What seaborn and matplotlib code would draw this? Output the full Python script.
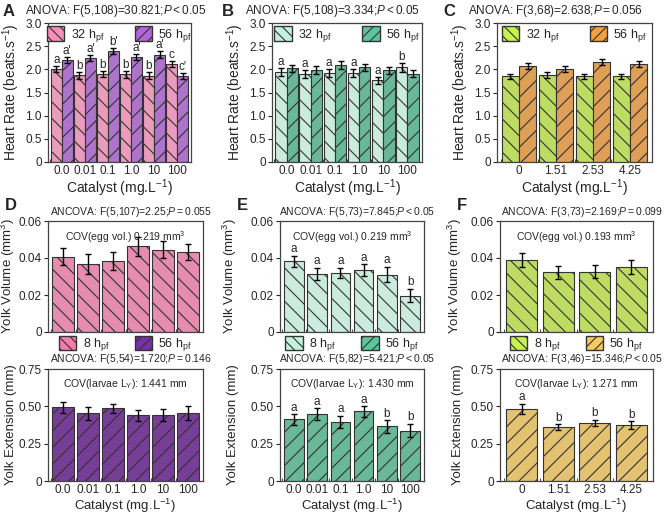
import numpy as np
import pandas as pd
import matplotlib
matplotlib.use("Agg")
import matplotlib.pyplot as plt
from matplotlib.patches import Patch
import seaborn as sns

sns.set_style("ticks")
plt.rcParams['font.family'] = ['Liberation Sans', 'DejaVu Sans']
plt.rcParams['mathtext.fontset'] = 'custom'
plt.rcParams['mathtext.rm'] = 'Liberation Sans'
plt.rcParams['mathtext.it'] = 'Liberation Sans:italic'
plt.rcParams['hatch.linewidth'] = 0.8

## data
conc_a = ['0.0', '0.01', '0.1', '1.0', '10', '100']
conc_c = ['0', '1.51', '2.53', '4.25']

# heart rate (beats/s), 32 hpf and 56 hpf
hr_a_32 = [2.01, 1.87, 1.90, 1.89, 1.865, 2.12]
hr_a_56 = [2.20, 2.25, 2.40, 2.27, 2.32, 1.86]
hr_a_32_err = [0.07, 0.07, 0.07, 0.07, 0.07, 0.07]
hr_a_56_err = [0.07, 0.07, 0.06, 0.07, 0.07, 0.07]
let_a_32 = ['a', 'b', 'b', 'b', 'b', 'c']
let_a_56 = ["a'", "a'", "b'", "a'", "a'", "c'"]

hr_b_32 = [1.94, 1.90, 1.92, 1.92, 1.76, 2.04]
hr_b_56 = [2.02, 1.98, 2.10, 2.04, 1.98, 1.91]
hr_b_32_err = [0.09, 0.09, 0.09, 0.08, 0.08, 0.09]
hr_b_56_err = [0.08, 0.09, 0.09, 0.08, 0.08, 0.08]
let_b_32 = ['a', 'a', 'a', 'a', 'a', 'b']

hr_c_32 = [1.85, 1.88, 1.85, 1.85]
hr_c_56 = [2.07, 2.01, 2.16, 2.11]
hr_c_32_err = [0.06, 0.06, 0.06, 0.06]
hr_c_56_err = [0.06, 0.06, 0.06, 0.06]

# yolk volume (mm3)
yv_d = [0.0408, 0.0368, 0.0384, 0.0463, 0.0445, 0.0433]
yv_d_err = [0.0047, 0.0055, 0.0048, 0.0050, 0.0047, 0.0044]
yv_e = [0.0382, 0.0315, 0.0320, 0.0335, 0.0310, 0.0197]
yv_e_err = [0.0029, 0.0033, 0.0026, 0.0031, 0.0042, 0.0035]
let_yv_e = ['a', 'a', 'a', 'a', 'a', 'b']
yv_f = [0.0390, 0.0323, 0.0326, 0.0351]
yv_f_err = [0.0036, 0.0036, 0.0034, 0.0036]

# yolk extension (mm)
ye_d = [0.493, 0.453, 0.488, 0.440, 0.443, 0.455]
ye_d_err = [0.035, 0.042, 0.030, 0.035, 0.040, 0.045]
ye_e = [0.412, 0.446, 0.396, 0.466, 0.365, 0.337]
ye_e_err = [0.035, 0.040, 0.040, 0.035, 0.042, 0.045]
let_ye_e = ['a', 'a', 'a', 'a', 'b', 'b']
ye_f = [0.484, 0.359, 0.389, 0.375]
ye_f_err = [0.032, 0.020, 0.022, 0.025]
let_ye_f = ['a', 'b', 'b', 'b']

# colours per column: (32/8 hpf, 56 hpf heart, 56 hpf yolk ext)
col_a = ('#f78fbb', '#b266d9', '#7b2fa6')
col_b = ('#c4f1df', '#5cc59c', '#5cc59c')
col_c = ('#c8f04e', '#f5a040', '#f6ca5e')
vol_a = '#f57dac'

W, H = 669, 514
fig = plt.figure(figsize=(W / 100, H / 100), dpi=100)


def add_ax(x0, x1, y0, y1):
    return fig.add_axes([x0 / W, 1 - y1 / H, (x1 - x0) / W, (y1 - y0) / H])


def style_ax(ax, n):
    for s in ax.spines.values():
        s.set_color('#444444')
        s.set_linewidth(0.9)
    ax.tick_params(axis='y', direction='out', length=3, width=0.8, labelsize=8.5, pad=1.5)
    ax.tick_params(axis='x', length=0, labelsize=8.5, pad=2.5)
    ax.set_xticks(np.arange(n) - 0.5, minor=True)
    ax.tick_params(axis='x', which='minor', direction='in', length=2, width=0.6)
    ax.set_xlim(-0.6, n - 0.4)


def add_err(ax, cont, err):
    xs = [p.get_x() + p.get_width() / 2 for p in cont]
    hs = [p.get_height() for p in cont]
    ax.errorbar(xs, hs, yerr=err, fmt='none', ecolor='black', elinewidth=1.0,
                capsize=2.5, capthick=1.0, zorder=5)
    return xs, hs


def add_letters(ax, xs, hs, err, letters, off):
    for x, h, e, t in zip(xs, hs, err, letters):
        ax.text(x, h + e + off, t, ha='center', va='bottom', fontsize=8.5)


def it(s):
    return '$\\mathit{' + s.replace('<', '{<}').replace('=', '{=}') + '}$'


def heart_panel(ax, conc, v32, v56, e32, e56, cols, let32=None, let56=None):
    df = pd.DataFrame({'conc': conc * 2, 'val': v32 + v56,
                       'grp': ['32'] * len(conc) + ['56'] * len(conc)})
    sns.barplot(data=df, x='conc', y='val', hue='grp', palette=[cols[0], cols[1]],
                errorbar=None, width=0.94, edgecolor='#333333', linewidth=0.8,
                legend=False, ax=ax)
    for cont, hatch in zip(ax.containers, ['\\\\', '//']):
        for p in cont:
            p.set_hatch(hatch)
    xs32, hs32 = add_err(ax, ax.containers[0], e32)
    xs56, hs56 = add_err(ax, ax.containers[1], e56)
    if let32:
        add_letters(ax, xs32, hs32, e32, let32, 0.0)
    if let56:
        add_letters(ax, xs56, hs56, e56, let56, 0.0)
    ax.set_ylim(0, 3.0)
    ax.set_yticks([0, 0.5, 1.0, 1.5, 2.0, 2.5, 3.0])
    ax.set_yticklabels(['0', '0.5', '1.0', '1.5', '2.0', '2.5', '3.0'])
    ax.set_ylabel('Heart Rate (beats.s$^{-1}$)', fontsize=10, labelpad=2)
    ax.set_xlabel('Catalyst (mg.L$^{-1}$)', fontsize=10, labelpad=0)
    style_ax(ax, len(conc))
    hd = [Patch(facecolor=cols[0], edgecolor='#333333', hatch='\\\\\\', label='32 h$_{\\mathrm{pf}}$'),
          Patch(facecolor=cols[1], edgecolor='#333333', hatch='///', label='56 h$_{\\mathrm{pf}}$')]
    ax.legend(handles=hd, loc='upper center', ncol=2, frameon=False, fontsize=9,
              handlelength=1.4, handleheight=1.4, columnspacing=2.4, handletextpad=0.5,
              borderaxespad=0.0, borderpad=0.25)


def single_panel(ax, conc, vals, err, color, hatch):
    df = pd.DataFrame({'conc': conc, 'val': vals})
    sns.barplot(data=df, x='conc', y='val', color=color, errorbar=None, width=0.85,
                edgecolor='#333333', linewidth=0.8, ax=ax)
    for p in ax.containers[0]:
        p.set_hatch(hatch)
    return add_err(ax, ax.containers[0], err)


# ---- top row: heart rate
ax_a = add_ax(48, 191, 23, 162)
heart_panel(ax_a, conc_a, hr_a_32, hr_a_56, hr_a_32_err, hr_a_56_err, col_a, let_a_32, let_a_56)
ax_b = add_ax(272, 422, 23, 162)
heart_panel(ax_b, conc_a, hr_b_32, hr_b_56, hr_b_32_err, hr_b_56_err, col_b, let_b_32)
ax_c = add_ax(497, 652, 23, 162)
heart_panel(ax_c, conc_c, hr_c_32, hr_c_56, hr_c_32_err, hr_c_56_err, col_c)

titles_top = [(3, 25, 'A', 'ANOVA: F(5,108)=30.821;', 'P<0.05'),
              (222, 245, 'B', 'ANOVA: F(5,108)=3.334;', 'P<0.05'),
              (443, 468, 'C', 'ANOVA: F(3,68)=2.638;', 'P=0.056')]
for lx, tx, lab, t1, t2 in titles_top:
    fig.text(lx / W, 1 - 11 / H, lab, fontsize=12, fontweight='bold', va='center')
    fig.text(tx / W, 1 - 11 / H, t1 + it(t2), fontsize=8.5, va='center')

# ---- bottom: yolk volume + yolk extension
bottom = [
    (48, 203, 31, 'D', 'ANCOVA: F(5,107)=2.25;', 'P=0.055', '0.219', yv_d, yv_d_err, None,
     'ANCOVA: F(5,54)=1.720;', 'P=0.146', '1.441', ye_d, ye_d_err, None,
     conc_a, vol_a, col_a[2]),
    (280, 424, 41, 'E', 'ANCOVA: F(5,73)=7.845;', 'P<0.05', '0.219', yv_e, yv_e_err, let_yv_e,
     'ANCOVA: F(5,82)=5.421;', 'P<0.05', '1.430', ye_e, ye_e_err, let_ye_e,
     conc_a, col_b[0], col_b[2]),
    (500, 653, 36, 'F', 'ANCOVA: F(3,73)=2.169;', 'P=0.099', '0.193', yv_f, yv_f_err, None,
     'ANCOVA: F(3,46)=15.346;', 'P<0.05', '1.271', ye_f, ye_f_err, let_ye_f,
     conc_c, col_c[0], col_c[2]),
]

for (x0, x1, lpad, lab, vt1, vt2, cov_v, yv, yv_err, yv_let,
     et1, et2, cov_e, ye, ye_err, ye_let, conc, cvol, cext) in bottom:
    axv = add_ax(x0, x1, 221, 332)
    xs, hs = single_panel(axv, conc, yv, yv_err, cvol, '\\\\')
    if yv_let:
        add_letters(axv, xs, hs, yv_err, yv_let, 0.0004)
    axv.set_ylim(0, 0.06)
    axv.set_yticks([0, 0.02, 0.04, 0.06])
    axv.set_yticklabels(['0', '0.02', '0.04', '0.06'])
    axv.set_xticklabels([])
    axv.set_xlabel('')
    axv.set_ylabel('Yolk Volume (mm$^{3}$)', fontsize=9.5)
    axv.yaxis.set_label_coords(-lpad / (x1 - x0), 0.5)
    style_ax(axv, len(conc))
    axv.text(0.5, 0.93, 'COV(egg vol.) ' + cov_v + ' mm$^{3}$', transform=axv.transAxes,
             ha='center', va='top', fontsize=7.5)

    axe = add_ax(x0, x1, 369, 481)
    xs, hs = single_panel(axe, conc, ye, ye_err, cext, '//')
    if ye_let:
        add_letters(axe, xs, hs, ye_err, ye_let, 0.004)
    axe.set_ylim(0, 0.75)
    axe.set_yticks([0, 0.25, 0.5, 0.75])
    axe.set_yticklabels(['0', '0.25', '0.50', '0.75'])
    axe.set_ylabel('Yolk Extension (mm)', fontsize=9.5)
    axe.yaxis.set_label_coords(-lpad / (x1 - x0), 0.5)
    axe.set_xlabel('Catalyst (mg.L$^{-1}$)', fontsize=9.5, labelpad=0)
    style_ax(axe, len(conc))
    axe.text(0.5, 0.93, 'COV(larvae L$_{\\mathrm{Y}}$): ' + cov_e + ' mm', transform=axe.transAxes,
             ha='center', va='top', fontsize=7.5)

    # panel letter + ANCOVA lines
    fig.text((x0 - 43) / W, 1 - 206 / H, lab, fontsize=12, fontweight='bold', va='center')
    fig.text((x0 + x1) / 2 / W + 0.008, 1 - 212 / H, vt1 + it(vt2), fontsize=7.5, ha='center', va='center')
    fig.text((x0 + x1) / 2 / W + 0.008, 1 - 359 / H, et1 + it(et2), fontsize=7.5, ha='center', va='center')

    hd = [Patch(facecolor=cvol, edgecolor='#333333', hatch='\\\\\\', label='8 h$_{\\mathrm{pf}}$'),
          Patch(facecolor=cext, edgecolor='#333333', hatch='///', label='56 h$_{\\mathrm{pf}}$')]
    axv.legend(handles=hd, loc='upper center', bbox_to_anchor=(0.5, -0.01), ncol=2,
               frameon=False, fontsize=9, handlelength=1.4, handleheight=1.4,
               columnspacing=2.0, handletextpad=0.5, borderaxespad=0.0, borderpad=0.2)

fig.savefig('out.png', dpi=100)
